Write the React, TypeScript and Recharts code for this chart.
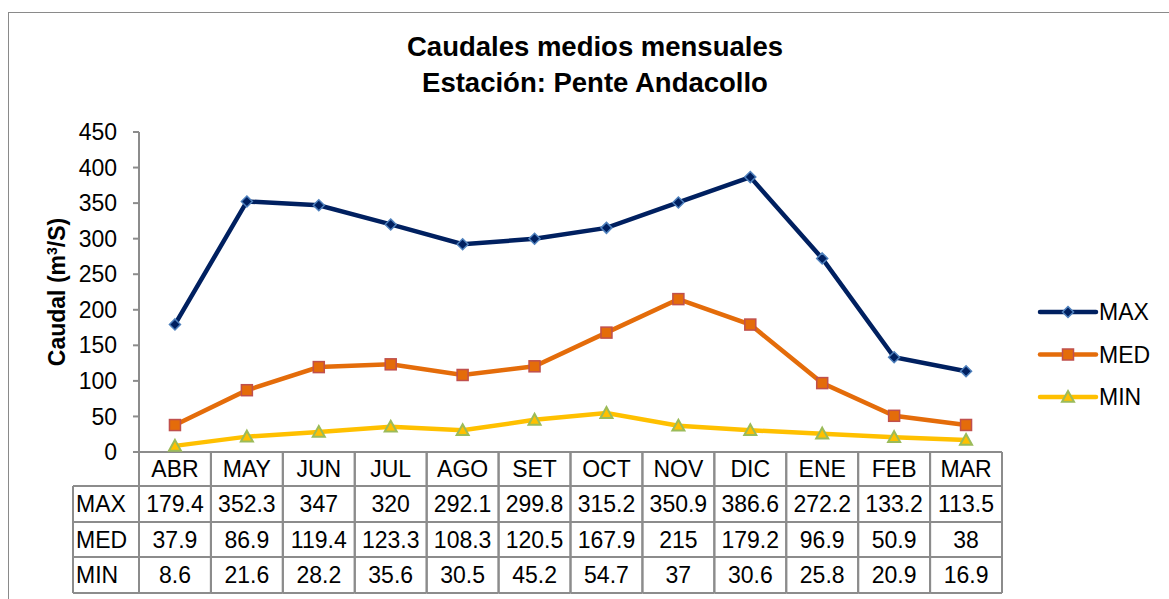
import React from 'react';
import { LineChart, Line, XAxis, YAxis } from 'recharts';

const months = ['ABR', 'MAY', 'JUN', 'JUL', 'AGO', 'SET', 'OCT', 'NOV', 'DIC', 'ENE', 'FEB', 'MAR'];
const maxValues = [179.4, 352.3, 347, 320, 292.1, 299.8, 315.2, 350.9, 386.6, 272.2, 133.2, 113.5];
const medValues = [37.9, 86.9, 119.4, 123.3, 108.3, 120.5, 167.9, 215, 179.2, 96.9, 50.9, 38];
const minValues = [8.6, 21.6, 28.2, 35.6, 30.5, 45.2, 54.7, 37, 30.6, 25.8, 20.9, 16.9];
const yTicks = [0, 50, 100, 150, 200, 250, 300, 350, 400, 450];

const data = months.map((m, i) => ({ month: m, MAX: maxValues[i], MED: medValues[i], MIN: minValues[i] }));

const FONT = 'Arial, "Liberation Sans", sans-serif';
const FS = 23;
const W = 1169;
const H = 599;
const PLOT_LEFT = 139;
const PLOT_RIGHT = 1002;
const PLOT_TOP = 132;
const PLOT_BOTTOM = 452;
const CELL_W = (PLOT_RIGHT - PLOT_LEFT) / months.length;
const ROWS = [0, 34, 70, 105, 141];
const GRID = '#8c8c8c';

const series = [
  { key: 'MAX', color: '#002060', values: maxValues },
  { key: 'MED', color: '#E46C0A', values: medValues },
  { key: 'MIN', color: '#FFC000', values: minValues },
];

function Marker({ kind, cx, cy }: { kind: string; cx: number; cy: number }) {
  if (kind === 'MAX') {
    const r = 5.5;
    return (
      <polygon
        points={`${cx},${cy - r} ${cx + r},${cy} ${cx},${cy + r} ${cx - r},${cy}`}
        fill="#002060"
        stroke="#4F81BD"
        strokeWidth={1.5}
      />
    );
  }
  if (kind === 'MED') {
    const s = 5.5;
    return <rect x={cx - s} y={cy - s} width={2 * s} height={2 * s} fill="#E46C0A" stroke="#C0504D" strokeWidth={1.5} />;
  }
  const r = 6;
  return (
    <polygon
      points={`${cx},${cy - r} ${cx + r},${cy + r * 0.8} ${cx - r},${cy + r * 0.8}`}
      fill="#FFC000"
      stroke="#9BBB59"
      strokeWidth={2}
    />
  );
}

function TableTick(props: any) {
  const { x, y, payload, index } = props;
  const left = x - CELL_W / 2;
  const right = x + CELL_W / 2;
  const bottom = y + ROWS[ROWS.length - 1];
  const rowLabels = series.map((s) => s.key);
  const cellVals = series.map((s) => s.values[index]);
  const textY = (r: number) => y + (ROWS[r] + ROWS[r + 1]) / 2 + 8;
  return (
    <g>
      <line x1={left} y1={y} x2={left} y2={bottom} stroke={GRID} strokeWidth={2} />
      <line x1={right} y1={y} x2={right} y2={bottom} stroke={GRID} strokeWidth={2} />
      {ROWS.slice(1).map((r, i) => (
        <line key={i} x1={left} y1={y + r} x2={right} y2={y + r} stroke={GRID} strokeWidth={2} />
      ))}
      <text x={x} y={textY(0)} textAnchor="middle" fontSize={FS} fontFamily={FONT} fill="#000">
        {payload.value}
      </text>
      {cellVals.map((v, i) => (
        <text key={i} x={x} y={textY(i + 1)} textAnchor="middle" fontSize={FS} fontFamily={FONT} fill="#000">
          {String(v)}
        </text>
      ))}
      {index === 0 && (
        <g>
          <line x1={left - 66} y1={y + ROWS[1]} x2={left - 66} y2={bottom} stroke={GRID} strokeWidth={2} />
          {ROWS.slice(1).map((r, i) => (
            <line key={i} x1={left - 66} y1={y + r} x2={left} y2={y + r} stroke={GRID} strokeWidth={2} />
          ))}
          {rowLabels.map((l, i) => (
            <text key={i} x={left - 63} y={textY(i + 1)} textAnchor="start" fontSize={FS} fontFamily={FONT} fill="#000">
              {l}
            </text>
          ))}
        </g>
      )}
    </g>
  );
}

function LegendBox() {
  return (
    <svg width={130} height={120} style={{ position: 'absolute', left: 1036, top: 300 }}>
      {series.map((s, i) => {
        const cy = 12 + i * 42.5;
        return (
          <g key={s.key}>
            <line x1={4} y1={cy} x2={60} y2={cy} stroke={s.color} strokeWidth={4.5} strokeLinecap="round" />
            <Marker kind={s.key} cx={32} cy={cy} />
            <text x={63} y={cy + 8} fontSize={FS} fontFamily={FONT} fill="#000">
              {s.key}
            </text>
          </g>
        );
      })}
    </svg>
  );
}

export default function App() {
  return (
    <div style={{ position: 'absolute', left: 0, top: 0, width: W, height: H, background: '#fff', overflow: 'hidden' }}>
      <div
        style={{
          position: 'absolute',
          left: 8,
          top: 12,
          width: W,
          height: H,
          border: '1.5px solid #8a8a8a',
          boxSizing: 'border-box',
        }}
      />
      <div
        style={{
          position: 'absolute',
          left: 0,
          width: 1190,
          top: 29,
          textAlign: 'center',
          fontFamily: FONT,
          fontWeight: 'bold',
          fontSize: 27.5,
          lineHeight: '36px',
          color: '#000',
        }}
      >
        Caudales medios mensuales
        <br />
        Estación: Pente Andacollo
      </div>
      <div style={{ position: 'absolute', left: 0, top: 0 }}>
        <LineChart
          width={W}
          height={H}
          data={data}
          margin={{ top: PLOT_TOP, right: W - PLOT_RIGHT, bottom: 5, left: 0 }}
        >
          <XAxis
            dataKey="month"
            height={H - 5 - PLOT_BOTTOM}
            padding={{ left: CELL_W / 2, right: CELL_W / 2 }}
            tickLine={false}
            tickSize={0}
            tickMargin={0}
            axisLine={{ stroke: GRID, strokeWidth: 2 }}
            tick={<TableTick />}
            interval={0}
          />
          <YAxis
            width={PLOT_LEFT}
            domain={[0, 450]}
            ticks={yTicks}
            interval={0}
            tickSize={6}
            tickMargin={16}
            axisLine={{ stroke: GRID, strokeWidth: 2 }}
            tickLine={{ stroke: GRID, strokeWidth: 2 }}
            tick={{ fontSize: FS, fontFamily: FONT, fill: '#000' }}
            label={{
              content: (p: any) => {
                const vb = p.viewBox || { y: PLOT_TOP, height: PLOT_BOTTOM - PLOT_TOP };
                const cy = vb.y + vb.height / 2;
                const cx = 65;
                return (
                  <text
                    x={cx}
                    y={cy}
                    transform={`rotate(-90, ${cx}, ${cy})`}
                    textAnchor="middle"
                    fontSize={FS}
                    fontWeight="bold"
                    fontFamily={FONT}
                    fill="#000"
                  >
                    Caudal (m
                    <tspan baselineShift="super" fontSize={14}>3</tspan>
                    /S)
                  </text>
                );
              },
            }}
          />
          {series.map((s) => (
            <Line
              key={s.key}
              dataKey={s.key}
              stroke={s.color}
              strokeWidth={4.5}
              isAnimationActive={false}
              dot={(p: any) => <Marker key={`${s.key}-${p.index}`} kind={s.key} cx={p.cx} cy={p.cy} />}
              activeDot={false}
            />
          ))}
        </LineChart>
      </div>
      <LegendBox />
    </div>
  );
}
